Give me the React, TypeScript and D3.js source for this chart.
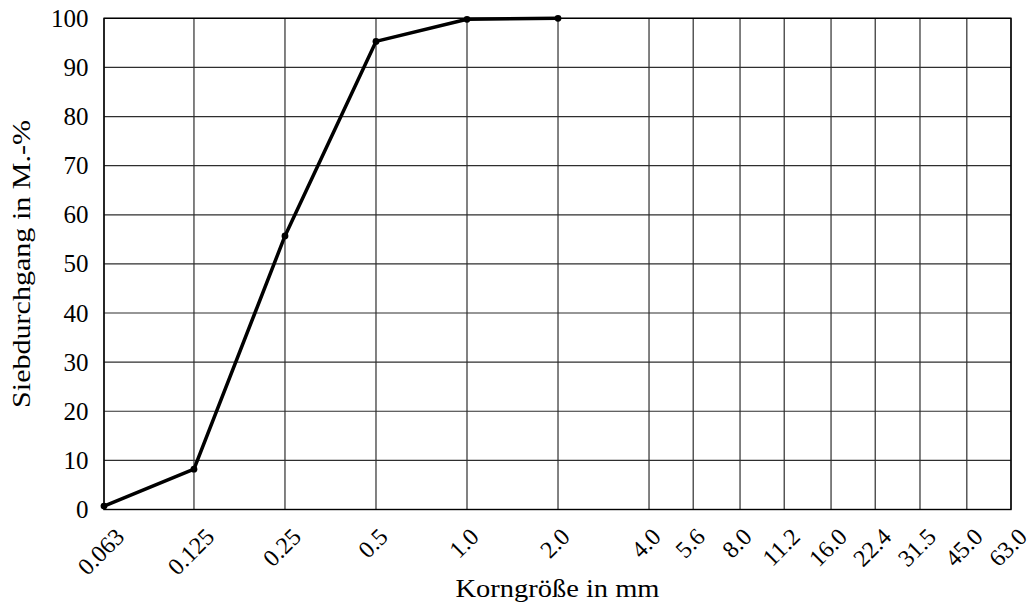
import React, { useRef, useEffect } from 'react';
import * as d3 from 'd3';

// sieve sizes in mm (x grid) and their labels
const sieves = [0.063, 0.125, 0.25, 0.5, 1.0, 2.0, 4.0, 5.6, 8.0, 11.2, 16.0, 22.4, 31.5, 45.0, 63.0];
const sieveLabels = ['0.063', '0.125', '0.25', '0.5', '1.0', '2.0', '4.0', '5.6', '8.0', '11.2', '16.0', '22.4', '31.5', '45.0', '63.0'];
const yTicks = [0, 10, 20, 30, 40, 50, 60, 70, 80, 90, 100];

// grading curve
const curveSizes = [0.063, 0.125, 0.25, 0.5, 1.0, 2.0];
const curvePassing = [0.7, 8.2, 55.7, 95.3, 99.8, 100];

const FONT = '"Liberation Serif", "DejaVu Serif", serif';

export default function App() {
    const svgRef = useRef<SVGSVGElement | null>(null);

    useEffect(() => {
        document.body.style.margin = '0';
        const svg = d3.select(svgRef.current);
        svg.selectAll('*').remove();

        const left = 104, right = 1011, top = 18.3, bottom = 509.5;

        const x = d3.scaleLog().domain([0.063, 63]).range([left, right]);
        const y = d3.scaleLinear().domain([0, 100]).range([bottom, top]);

        const g = svg.append('g');

        // grid
        g.selectAll('line.v')
            .data(sieves)
            .join('line')
            .attr('class', 'v')
            .attr('x1', d => x(d)).attr('x2', d => x(d))
            .attr('y1', top).attr('y2', bottom)
            .attr('stroke', '#2e2e2e')
            .attr('stroke-width', 1.2);

        g.selectAll('line.h')
            .data(yTicks)
            .join('line')
            .attr('class', 'h')
            .attr('x1', left).attr('x2', right)
            .attr('y1', d => y(d)).attr('y2', d => y(d))
            .attr('stroke', '#2e2e2e')
            .attr('stroke-width', 1.2);

        // frame
        g.append('rect')
            .attr('x', left).attr('y', top)
            .attr('width', right - left).attr('height', bottom - top)
            .attr('fill', 'none')
            .attr('stroke', '#000')
            .attr('stroke-width', 1.4);

        // y tick labels
        g.selectAll('text.yt')
            .data(yTicks)
            .join('text')
            .attr('class', 'yt')
            .attr('x', 88.5)
            .attr('y', d => y(d) + 8.5)
            .attr('text-anchor', 'end')
            .attr('font-family', FONT)
            .attr('font-size', 25)
            .attr('fill', '#000')
            .text(d => d);

        // x tick labels, rotated 45°, centred on the tick, top aligned
        const labelTop = 528;
        const glyphH = 16;
        sieves.forEach((s, i) => {
            const t = g.append('text')
                .attr('text-anchor', 'middle')
                .attr('font-family', FONT)
                .attr('font-size', 24)
                .attr('fill', '#000')
                .text(sieveLabels[i]);
            const w = (t.node() as SVGTextElement).getComputedTextLength();
            const cx = x(s) - 3;
            const cy = labelTop + 0.3536 * (w + glyphH) - 1;
            t.attr('transform', `translate(${cx},${cy}) rotate(-45)`)
                .attr('dy', glyphH / 2);
        });

        // axis titles
        g.append('text')
            .attr('x', (left + right) / 2)
            .attr('y', 597)
            .attr('text-anchor', 'middle')
            .attr('font-family', FONT)
            .attr('font-size', 25)
            .attr('textLength', 204)
            .attr('lengthAdjust', 'spacingAndGlyphs')
            .attr('fill', '#000')
            .text('Korngröße in mm');

        g.append('text')
            .attr('transform', `translate(30,${(top + bottom) / 2}) rotate(-90)`)
            .attr('text-anchor', 'middle')
            .attr('font-family', FONT)
            .attr('font-size', 25)
            .attr('textLength', 288)
            .attr('lengthAdjust', 'spacingAndGlyphs')
            .attr('fill', '#000')
            .text('Siebdurchgang in M.-%');

        // curve
        const pts = curveSizes.map((s, i) => [s, curvePassing[i]] as [number, number]);
        const line = d3.line<[number, number]>()
            .x(d => x(d[0]))
            .y(d => y(d[1]));

        g.append('path')
            .attr('d', line(pts))
            .attr('fill', 'none')
            .attr('stroke', '#000')
            .attr('stroke-width', 3.5)
            .attr('stroke-linejoin', 'round');

        g.selectAll('circle')
            .data(pts)
            .join('circle')
            .attr('cx', d => x(d[0]))
            .attr('cy', d => y(d[1]))
            .attr('r', 3.4)
            .attr('fill', '#000');
    }, []);

    return <svg ref={svgRef} width={1033} height={605} style={{ display: 'block', background: '#fff' }} />;
}
